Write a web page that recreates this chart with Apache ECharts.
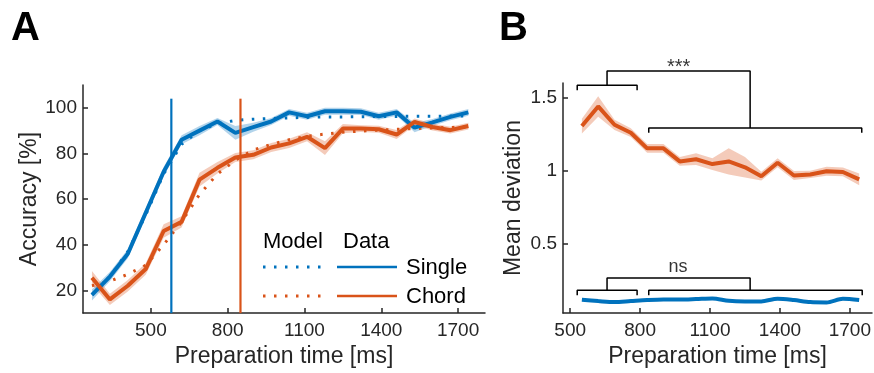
<!DOCTYPE html>
<html>
<head>
<meta charset="utf-8">
<script src="https://cdn.jsdelivr.net/npm/echarts@6/dist/echarts.min.js"></script>
<style>
	html, body { margin: 0; padding: 0; background: #fff; }
	#chart { width: 874px; height: 373px; }
</style>
</head>
<body>
<div id="chart"></div>
<script>
// panel A: accuracy vs preparation time
const prepTimeA = [270, 340, 410, 480, 550, 620, 690, 760, 830, 900, 970, 1040, 1110, 1180, 1250, 1320, 1390, 1460, 1530, 1600, 1670, 1740]
const singleData = [18, 26, 36, 54, 72, 86, 90, 94, 89, 91.5, 94, 98, 96.3, 98.5, 98.5, 98.3, 96.3, 98, 91.3, 93.6, 96, 98]
const singleErr = [2.5, 2, 2, 2, 2, 2, 2, 1.5, 3, 2, 1.5, 1.5, 1.5, 1.5, 1.5, 1.5, 1.5, 1.5, 2, 1.5, 1.5, 1.5]
const chordData = [25.5, 16, 22, 29.3, 46, 50, 68.5, 73.7, 78.2, 79.4, 82.6, 84.4, 87.3, 82.3, 90.9, 90.9, 90.6, 88.3, 93.8, 91.6, 90.2, 92]
const chordErr = [3, 2.5, 2.5, 2.5, 3, 2.5, 3, 2.5, 2, 2, 2, 2, 2, 3, 2, 1.5, 1.5, 2, 1.5, 1.5, 1.5, 1.5]
const singleModel = [18, 26, 37, 53, 71, 84, 90, 93, 94.5, 95, 95.3, 95.6, 95.8, 96, 96, 96.1, 96.2, 96.2, 96.3, 96.3, 96.4, 96.4]
const chordModel = [22, 24, 27, 31, 40, 50, 62, 71, 77, 81.5, 84, 86, 87.5, 88.5, 89.3, 89.8, 90.2, 90.6, 90.9, 91.2, 91.4, 91.6]
const thresholdSingle = 580
const thresholdChord = 850

// panel B: mean deviation
const prepTimeB = [550, 620, 690, 760, 830, 900, 970, 1040, 1110, 1180, 1250, 1320, 1390, 1460, 1530, 1600, 1670, 1740]
const chordDev = [1.306, 1.44, 1.315, 1.261, 1.154, 1.154, 1.065, 1.08, 1.047, 1.065, 1.025, 0.964, 1.056, 0.969, 0.976, 0.998, 0.993, 0.942]
const chordDevErr = [0.05, 0.07, 0.035, 0.03, 0.03, 0.03, 0.03, 0.04, 0.04, 0.09, 0.07, 0.03, 0.03, 0.03, 0.025, 0.03, 0.03, 0.04]
const singleDev = [0.121, 0.112, 0.105, 0.112, 0.119, 0.123, 0.123, 0.126, 0.130, 0.114, 0.110, 0.110, 0.128, 0.119, 0.105, 0.103, 0.128, 0.119]

// significance brackets (data coords of panel B)
const bracketsTop = [
	[[530, 1.55], [530, 1.584], [787, 1.584], [787, 1.55]],
	[[837, 1.26], [837, 1.293], [1751, 1.293], [1751, 1.26]],
	[[658, 1.584], [658, 1.682], [1272, 1.682], [1272, 1.293]],
]
const bracketsBottom = [
	[[530, 0.152], [530, 0.186], [787, 0.186], [787, 0.152]],
	[[837, 0.152], [837, 0.186], [1753, 0.186], [1753, 0.152]],
	[[658, 0.186], [658, 0.27], [1272, 0.27], [1272, 0.186]],
]
const starsLabel = { text: "***", pos: [965, 1.705], size: 20 }
const nsLabel = { text: "ns", pos: [962, 0.345], size: 18 }

const ticksXA = [500, 800, 1100, 1400, 1700]
const ticksYA = [20, 40, 60, 80, 100]
const ticksXB = [500, 800, 1100, 1400, 1700]
const ticksYB = [0.5, 1, 1.5]

const BLUE = "#0072BD"
const ORANGE = "#D95319"
const INK = "#262626"
const FONT = "Liberation Sans, Arial, sans-serif"

const zip = (xs, ys) => xs.map((x, i) => [x, ys[i]])

const bandSeries = (gi, xs, mean, err, color) => ({
	type: "custom",
	xAxisIndex: gi,
	yAxisIndex: gi,
	silent: true,
	z: 1,
	data: [[xs[0], mean[0]]],
	renderItem: (params, api) => {
		const pts = []
		xs.forEach((x, i) => pts.push(api.coord([x, mean[i] + err[i]])))
		for (let i = xs.length - 1; i >= 0; i--) pts.push(api.coord([xs[i], mean[i] - err[i]]))
		return { type: "polygon", shape: { points: pts }, style: { fill: color } }
	},
})

const lineSeries = (gi, data, color, width, dash, z, smooth) => ({
	type: "line",
	xAxisIndex: gi,
	yAxisIndex: gi,
	data: data,
	symbol: "none",
	smooth: smooth || false,
	silent: true,
	z: z,
	clip: false,
	lineStyle: { color: color, width: width, type: dash || "solid", cap: "butt" },
})

const axisCommon = {
	axisLine: { show: true, lineStyle: { color: INK, width: 1.5 } },
	splitLine: { show: false },
	nameLocation: "middle",
	nameTextStyle: { color: INK, fontSize: 23, fontFamily: FONT },
}

const plain = (v) => String(v)

const xAxisOf = (gi, min, max, ticks) => ({
	...axisCommon,
	type: "value",
	gridIndex: gi,
	min: min,
	max: max,
	name: "Preparation time [ms]",
	nameGap: 28,
	axisTick: { inside: true, length: 5, lineStyle: { color: INK, width: 1.5 }, customValues: ticks },
	axisLabel: { customValues: ticks, formatter: plain, color: INK, fontSize: 19, fontFamily: FONT, margin: 8 },
})

const yAxisOf = (gi, min, max, ticks, name, gap) => ({
	...axisCommon,
	type: "value",
	gridIndex: gi,
	min: min,
	max: max,
	name: name,
	nameGap: gap,
	axisTick: { inside: true, length: 5, lineStyle: { color: INK, width: 1.5 }, customValues: ticks },
	axisLabel: { customValues: ticks, formatter: plain, color: INK, fontSize: 19, fontFamily: FONT, margin: 6 },
})

const bracketSeries = (lines) => lines.map((l) => lineSeries(1, l, "#000", 1.5, "solid", 6))

const textSeries = (lbl) => ({
	type: "scatter",
	xAxisIndex: 1,
	yAxisIndex: 1,
	symbolSize: 0,
	silent: true,
	clip: false,
	data: [lbl.pos],
	label: { show: true, position: "inside", formatter: lbl.text, color: "#000", fontSize: lbl.size, fontFamily: FONT },
})

const textAt = (x, y, text, font) => ({
	type: "text",
	style: { x: x, y: y, text: text, fill: "#000", font: font, verticalAlign: "middle", align: "left" },
})
const legendLine = (x1, x2, y, color, dash) => ({
	type: "line",
	shape: { x1: x1, y1: y, x2: x2, y2: y },
	style: { stroke: color, lineWidth: dash ? 3 : 2.5, lineDash: dash ? [2.5, 8.5] : null },
})

const chart = echarts.init(document.getElementById("chart"))
chart.setOption({
	animation: false,
	grid: [
		{ left: 83, top: 85, width: 402, height: 233 },
		{ left: 563, top: 83, width: 310, height: 235 },
	],
	xAxis: [xAxisOf(0, 235, 1805, ticksXA), xAxisOf(1, 469, 1795, ticksXB)],
	yAxis: [
		yAxisOf(0, 10, 110, ticksYA, "Accuracy [%]", 40),
		yAxisOf(1, 0.03, 1.6, ticksYB, "Mean deviation", 38),
	],
	series: [
		bandSeries(0, prepTimeA, singleData, singleErr, "rgba(0,114,189,0.3)"),
		bandSeries(0, prepTimeA, chordData, chordErr, "rgba(217,83,25,0.3)"),
		lineSeries(0, zip(prepTimeA, singleModel), BLUE, 3, [2.5, 8.5], 2),
		lineSeries(0, zip(prepTimeA, chordModel), ORANGE, 3, [2.5, 8.5], 2),
		lineSeries(0, zip(prepTimeA, singleData), BLUE, 4, "solid", 3),
		lineSeries(0, zip(prepTimeA, chordData), ORANGE, 4, "solid", 3),
		lineSeries(0, [[thresholdSingle, 10], [thresholdSingle, 104]], BLUE, 2.2, "solid", 5),
		lineSeries(0, [[thresholdChord, 10], [thresholdChord, 104]], ORANGE, 2.2, "solid", 5),

		bandSeries(1, prepTimeB, chordDev, chordDevErr, "rgba(217,83,25,0.3)"),
		lineSeries(1, zip(prepTimeB, chordDev), ORANGE, 4, "solid", 3),
		lineSeries(1, zip(prepTimeB, singleDev), BLUE, 4, "solid", 3, 0.3),
		...bracketSeries(bracketsTop),
		...bracketSeries(bracketsBottom),
		textSeries(starsLabel),
		textSeries(nsLabel),
	],
	graphic: [
		textAt(11, 29, "A", "bold 40px " + FONT),
		textAt(499, 29, "B", "bold 40px " + FONT),
		textAt(263, 242, "Model", "22px " + FONT),
		textAt(343, 242, "Data", "22px " + FONT),
		legendLine(263, 322, 267, BLUE, true),
		legendLine(337, 397, 267, BLUE, false),
		textAt(406, 268, "Single", "22px " + FONT),
		legendLine(263, 322, 296, ORANGE, true),
		legendLine(337, 397, 296, ORANGE, false),
		textAt(406, 296.5, "Chord", "22px " + FONT),
	],
})
</script>
</body>
</html>
